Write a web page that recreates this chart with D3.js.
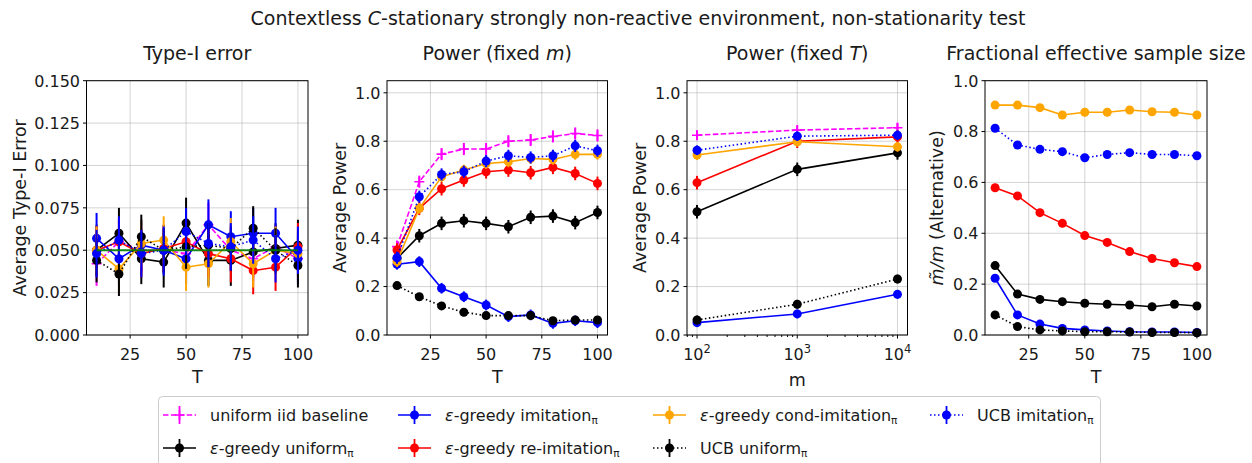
<!DOCTYPE html>
<html><head><meta charset="utf-8">
<script src="https://cdn.jsdelivr.net/npm/d3@7"></script>
<style>body{margin:0;background:#fff}svg{display:block}text{font-family:"DejaVu Sans",sans-serif;fill:#1a1a1a}</style>
</head><body>
<script>
// ---------- data ----------
const T_VALUES = [10,20,30,40,50,60,70,80,90,100];
const M_VALUES = [100,1000,10000];
const SERIES = ["uniform iid baseline","ε-greedy uniform","ε-greedy imitation","ε-greedy re-imitation","ε-greedy cond-imitation","UCB uniform","UCB imitation"];
const ALPHA_LEVEL = 0.05;

// Type-I error vs T
const typeI_uniformIID   = [0.042,0.055,0.050,0.050,0.048,0.065,0.050,0.045,0.052,0.045];
const typeI_egUniform    = [0.050,0.060,0.045,0.043,0.066,0.044,0.044,0.049,0.051,0.053];
const typeI_egImitation  = [0.057,0.045,0.053,0.050,0.045,0.065,0.058,0.060,0.060,0.045];
const typeI_egReImit     = [0.050,0.055,0.048,0.051,0.055,0.048,0.045,0.038,0.040,0.052];
const typeI_egCondImit   = [0.050,0.039,0.054,0.056,0.040,0.042,0.055,0.042,0.050,0.048];
const typeI_ucbUniform   = [0.044,0.036,0.058,0.050,0.052,0.053,0.051,0.063,0.050,0.041];
const typeI_ucbImitation = [0.048,0.056,0.048,0.050,0.061,0.054,0.052,0.056,0.045,0.050];
const typeI_err          = [0.013,0.015,0.015,0.014,0.014,0.013,0.014];

// Power vs T (fixed m)
const powT_uniformIID   = [0.365,0.633,0.747,0.768,0.768,0.800,0.805,0.820,0.832,0.824];
const powT_egUniform    = [0.316,0.410,0.461,0.472,0.461,0.447,0.486,0.491,0.464,0.506];
const powT_egImitation  = [0.292,0.303,0.193,0.158,0.124,0.076,0.083,0.048,0.059,0.051];
const powT_egReImit     = [0.351,0.523,0.604,0.640,0.674,0.681,0.670,0.692,0.667,0.626];
const powT_egCondImit   = [0.303,0.523,0.653,0.681,0.708,0.715,0.729,0.725,0.746,0.746];
const powT_ucbUniform   = [0.204,0.158,0.120,0.094,0.080,0.080,0.080,0.059,0.062,0.062];
const powT_ucbImitation = [0.319,0.571,0.663,0.674,0.718,0.740,0.733,0.740,0.781,0.761];
const powT_err          = [0.025,0.028,0.022,0.028,0.022,0.015,0.025];

// Power vs m (fixed T)
const powM_uniformIID   = [0.825,0.846,0.856];
const powM_egUniform    = [0.509,0.684,0.752];
const powM_egImitation  = [0.051,0.087,0.168];
const powM_egReImit     = [0.629,0.800,0.818];
const powM_egCondImit   = [0.743,0.798,0.777];
const powM_ucbUniform   = [0.062,0.127,0.231];
const powM_ucbImitation = [0.763,0.821,0.825];
const powM_err          = [0.02,0.028,0.018,0.028,0.02,0.018,0.02];

// Fractional effective sample size vs T (alternative)
const ess_egUniform    = [0.273,0.161,0.140,0.131,0.125,0.121,0.118,0.111,0.121,0.114];
const ess_egImitation  = [0.223,0.079,0.043,0.026,0.020,0.016,0.013,0.012,0.012,0.010];
const ess_egReImit     = [0.579,0.547,0.481,0.439,0.391,0.364,0.328,0.301,0.284,0.269];
const ess_egCondImit   = [0.904,0.904,0.894,0.865,0.876,0.876,0.885,0.878,0.876,0.865];
const ess_ucbUniform   = [0.079,0.033,0.020,0.016,0.013,0.013,0.012,0.010,0.010,0.009];
const ess_ucbImitation = [0.813,0.747,0.730,0.721,0.697,0.710,0.717,0.710,0.710,0.705];

// ---------- styles ----------
const STYLE = [
  {color:"#ff00ff", dash:"5.5,2.4", marker:"plus"},
  {color:"#000000", dash:null, marker:"circle"},
  {color:"#0000ff", dash:null, marker:"circle"},
  {color:"#ff0000", dash:null, marker:"circle"},
  {color:"#ffa500", dash:null, marker:"circle"},
  {color:"#000000", dash:"1.5,2.5", marker:"circle"},
  {color:"#0000ff", dash:"1.5,2.5", marker:"circle"}
];

const W = 1252, H = 463;
const svg = d3.select("body").append("svg").attr("width", W).attr("height", H);

const TOP = 80.7, BOT = 335;

function drawMark(g, s, x, y){
  if (s.marker === "circle") {
    g.append("circle").attr("cx", x).attr("cy", y).attr("r", 4.5).attr("fill", s.color);
  } else {
    g.append("path").attr("d", `M${x-5},${y}H${x+5}M${x},${y-5}V${y+5}`)
      .attr("stroke", s.color).attr("stroke-width", 1.6).attr("fill","none");
  }
}

function panel(opt){
  const g = svg.append("g");
  const x = opt.x, y = opt.y;
  const [x0,x1] = x.range();
  // grid
  opt.xticks.forEach(t => g.append("line").attr("x1",x(t)).attr("x2",x(t)).attr("y1",TOP).attr("y2",BOT)
     .attr("stroke","#b0b0b0").attr("stroke-opacity",0.55).attr("stroke-width",1));
  opt.yticks.forEach(t => g.append("line").attr("x1",x0).attr("x2",x1).attr("y1",y(t)).attr("y2",y(t))
     .attr("stroke","#b0b0b0").attr("stroke-opacity",0.55).attr("stroke-width",1));
  const clip = g.append("g");
  // series
  opt.series.forEach(({idx, vals, err}) => {
    const s = STYLE[idx];
    const pts = vals.map((v,i)=>[x(opt.xs[i]), y(v)]);
    const line = clip.append("path").attr("d", d3.line()(pts)).attr("fill","none")
      .attr("stroke", s.color).attr("stroke-width", 1.6);
    if (s.dash) line.attr("stroke-dasharray", s.dash);
    if (err != null) {
      vals.forEach((v,i)=> clip.append("line").attr("x1",x(opt.xs[i])).attr("x2",x(opt.xs[i]))
        .attr("y1", y(v-err)).attr("y2", y(v+err)).attr("stroke", s.color).attr("stroke-width",2));
    }
    pts.forEach(p => drawMark(clip, s, p[0], p[1]));
  });
  if (opt.extraTop) opt.extraTop(clip, x, y);
  // frame
  g.append("rect").attr("x",x0).attr("y",TOP).attr("width",x1-x0).attr("height",BOT-TOP)
    .attr("fill","none").attr("stroke","#000").attr("stroke-width",1);
  // x ticks
  opt.xticks.forEach(t => {
    g.append("line").attr("x1",x(t)).attr("x2",x(t)).attr("y1",BOT).attr("y2",BOT+3.5).attr("stroke","#000");
    const tx = g.append("text").attr("x",x(t)).attr("y",360).attr("text-anchor","middle").attr("font-size",16);
    if (opt.logx) {
      tx.text("10").append("tspan").attr("dy",-7).attr("font-size",11.5).text(String(Math.round(Math.log10(t))));
    } else tx.text(t);
  });
  if (opt.minor) opt.minor.forEach(t => g.append("line").attr("x1",x(t)).attr("x2",x(t)).attr("y1",BOT).attr("y2",BOT+2).attr("stroke","#000"));
  // y ticks
  opt.yticks.forEach(t => {
    g.append("line").attr("x1",x0-3.5).attr("x2",x0).attr("y1",y(t)).attr("y2",y(t)).attr("stroke","#000");
    g.append("text").attr("x",x0-6.5).attr("y",y(t)+5.8).attr("text-anchor","end").attr("font-size",16).text(opt.yfmt(t));
  });
  // labels
  g.append("text").attr("x",(x0+x1)/2).attr("y",opt.xlabY||383).attr("text-anchor","middle").attr("font-size",17.5).text(opt.xlabel);
  const yl = g.append("text").attr("transform",`translate(${opt.ylabX},${(TOP+BOT)/2}) rotate(-90)`)
    .attr("text-anchor","middle").attr("font-size",17.5);
  opt.ylabel(yl);
  const tt = g.append("text").attr("x",(x0+x1)/2).attr("y",59.5).attr("text-anchor","middle").attr("font-size",19);
  opt.title(tt);
}

const xLin = r => d3.scaleLinear().domain([5.5,104.5]).range(r);
const xticksT = [25,50,75,100];

// Panel 1
panel({
  x: xLin([86.5,308]), y: d3.scaleLinear().domain([0,0.15]).range([BOT,TOP]),
  xs: T_VALUES, xticks: xticksT, yticks: d3.range(0,0.1501,0.025), yfmt: d3.format(".3f"),
  xlabel:"T", ylabX: 25.5, ylabel: t=>t.text("Average Type-I Error"), title: t=>t.text("Type-I error"),
  series: [
    {idx:0, vals:typeI_uniformIID, err:typeI_err[0]},
    {idx:1, vals:typeI_egUniform, err:typeI_err[1]},
    {idx:2, vals:typeI_egImitation, err:typeI_err[2]},
    {idx:3, vals:typeI_egReImit, err:typeI_err[3]},
    {idx:4, vals:typeI_egCondImit, err:typeI_err[4]},
    {idx:5, vals:typeI_ucbUniform, err:typeI_err[5]},
    {idx:6, vals:typeI_ucbImitation, err:typeI_err[6]}
  ],
  extraTop: (g, x, y) => {
    g.append("line").attr("x1",x(T_VALUES[0])).attr("x2",x(T_VALUES[T_VALUES.length-1])).attr("y1",y(ALPHA_LEVEL)).attr("y2",y(ALPHA_LEVEL))
     .attr("stroke","#008000").attr("stroke-width",1.8).attr("stroke-opacity",0.9); }
});

// Panel 2
panel({
  x: xLin([387,607.5]), y: d3.scaleLinear().domain([0,1.05]).range([BOT,TOP]),
  xs: T_VALUES, xticks: xticksT, yticks: [0,0.2,0.4,0.6,0.8,1.0], yfmt: d3.format(".1f"),
  xlabel:"T", ylabX: 346, ylabel: t=>t.text("Average Power"),
  title: t=>{ t.append("tspan").text("Power (fixed "); t.append("tspan").attr("font-style","italic").text("m"); t.append("tspan").text(")"); },
  series: [
    {idx:0, vals:powT_uniformIID, err:powT_err[0]},
    {idx:1, vals:powT_egUniform, err:powT_err[1]},
    {idx:2, vals:powT_egImitation, err:powT_err[2]},
    {idx:3, vals:powT_egReImit, err:powT_err[3]},
    {idx:4, vals:powT_egCondImit, err:powT_err[4]},
    {idx:5, vals:powT_ucbUniform, err:powT_err[5]},
    {idx:6, vals:powT_ucbImitation, err:powT_err[6]}
  ]
});

// Panel 3
const minorM = [];
[10,100,1000].forEach(d => d3.range(2,10).forEach(k => { const v=k*d; if (v>=Math.pow(10,1.9) && v<=Math.pow(10,4.1)) minorM.push(v); }));
panel({
  x: d3.scaleLog().domain([Math.pow(10,1.9),Math.pow(10,4.1)]).range([687,907.5]), y: d3.scaleLinear().domain([0,1.05]).range([BOT,TOP]),
  xs: M_VALUES, xticks: M_VALUES, logx:true, minor:minorM, yticks: [0,0.2,0.4,0.6,0.8,1.0], yfmt: d3.format(".1f"),
  xlabel:"m", xlabY: 386, ylabX: 645.5, ylabel: t=>t.text("Average Power"),
  title: t=>{ t.append("tspan").text("Power (fixed "); t.append("tspan").attr("font-style","italic").text("T"); t.append("tspan").text(")"); },
  series: [
    {idx:0, vals:powM_uniformIID, err:powM_err[0]},
    {idx:1, vals:powM_egUniform, err:powM_err[1]},
    {idx:2, vals:powM_egImitation, err:powM_err[2]},
    {idx:3, vals:powM_egReImit, err:powM_err[3]},
    {idx:4, vals:powM_egCondImit, err:powM_err[4]},
    {idx:5, vals:powM_ucbUniform, err:powM_err[5]},
    {idx:6, vals:powM_ucbImitation, err:powM_err[6]}
  ]
});

// Panel 4
panel({
  x: xLin([985,1207]), y: d3.scaleLinear().domain([0,1.0]).range([BOT,TOP]),
  xs: T_VALUES, xticks: xticksT, yticks: [0,0.2,0.4,0.6,0.8,1.0], yfmt: d3.format(".1f"),
  xlabel:"T", ylabX: 943, ylabel: t=>{ t.append("tspan").attr("font-style","italic").text("m̃/m"); t.append("tspan").text(" (Alternative)"); },
  title: t=>t.text("Fractional effective sample size"),
  series: [
    {idx:1, vals:ess_egUniform, err:null},
    {idx:2, vals:ess_egImitation, err:null},
    {idx:3, vals:ess_egReImit, err:null},
    {idx:4, vals:ess_egCondImit, err:null},
    {idx:5, vals:ess_ucbUniform, err:null},
    {idx:6, vals:ess_ucbImitation, err:null}
  ]
});

// Suptitle
const st = svg.append("text").attr("x",638).attr("y",24.5).attr("text-anchor","middle").attr("font-size",19);
st.append("tspan").text("Contextless ");
st.append("tspan").attr("font-style","italic").text("C");
st.append("tspan").text("-stationary strongly non-reactive environment, non-stationarity test");

// Legend
const lg = svg.append("g");
lg.append("rect").attr("x",158.5).attr("y",396.5).attr("width",942).attr("height",90).attr("rx",4)
  .attr("fill","#fff").attr("stroke","#cccccc").attr("stroke-width",1);
const LEG_POS = [
  {hx:163, tx:210, y:415}, {hx:163, tx:210, y:448},
  {hx:398, tx:445, y:415}, {hx:398, tx:445, y:448},
  {hx:653, tx:700, y:415}, {hx:653, tx:700, y:448},
  {hx:930, tx:977, y:415}
];
const LEG_TEXT = [
  {eps:false, body:"uniform iid baseline", sub:false},
  {eps:true, body:"-greedy uniform", sub:true},
  {eps:true, body:"-greedy imitation", sub:true},
  {eps:true, body:"-greedy re-imitation", sub:true},
  {eps:true, body:"-greedy cond-imitation", sub:true},
  {eps:false, body:"UCB uniform", sub:true},
  {eps:false, body:"UCB imitation", sub:true}
];
SERIES.forEach((name,i) => {
  const s = STYLE[i], p = LEG_POS[i];
  const ln = lg.append("line").attr("x1",p.hx).attr("x2",p.hx+33).attr("y1",p.y).attr("y2",p.y)
    .attr("stroke",s.color).attr("stroke-width",1.6);
  if (s.dash) ln.attr("stroke-dasharray", s.dash);
  lg.append("line").attr("x1",p.hx+16.5).attr("x2",p.hx+16.5).attr("y1",p.y-9).attr("y2",p.y+9).attr("stroke",s.color).attr("stroke-width",1.8);
  drawMark(lg, s, p.hx+16.5, p.y);
  const t = lg.append("text").attr("x",p.tx).attr("y",p.y+6).attr("font-size",16);
  const lt = LEG_TEXT[i];
  if (lt.eps) t.append("tspan").attr("font-style","italic").text("ε");
  t.append("tspan").text(lt.body);
  if (lt.sub) t.append("tspan").attr("font-size",10.5).attr("dy",3).text("π");
});
</script>
</body></html>
